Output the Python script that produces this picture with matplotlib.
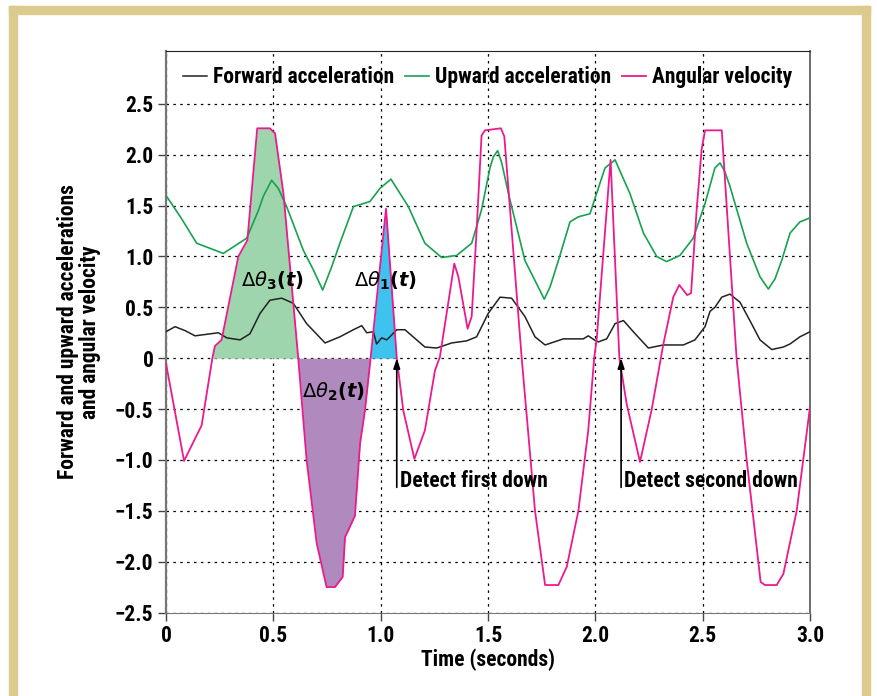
import matplotlib
matplotlib.use("Agg")
import matplotlib.pyplot as plt
import numpy as np
from matplotlib.patches import Rectangle

FAM = ['Roboto Condensed', 'DejaVu Sans']
plt.rcParams['font.family'] = FAM
plt.rcParams['mathtext.fontset'] = 'dejavusans'

# ---------------- data ----------------
t_fwd = [0.0, 0.042, 0.09, 0.135, 0.244, 0.283, 0.345, 0.391, 0.438, 0.484, 0.539, 0.593,
         0.655, 0.741, 0.81, 0.873, 0.912, 0.935, 0.966, 0.981, 1.005, 1.028, 1.043, 1.075,
         1.113, 1.206, 1.261, 1.331, 1.40, 1.447, 1.501, 1.556, 1.61, 1.672, 1.719, 1.766,
         1.851, 1.944, 1.967, 1.995, 2.014, 2.053, 2.092, 2.131, 2.177, 2.247, 2.317, 2.41,
         2.464, 2.511, 2.534, 2.557, 2.589, 2.627, 2.674, 2.72, 2.767, 2.822, 2.876, 2.907,
         2.953, 3.0]
forward_acc = [0.26, 0.31, 0.27, 0.22, 0.25, 0.20, 0.18, 0.24, 0.44, 0.57, 0.59, 0.54,
               0.34, 0.15, 0.21, 0.28, 0.32, 0.25, 0.26, 0.14, 0.20, 0.18, 0.21, 0.28,
               0.28, 0.11, 0.10, 0.15, 0.17, 0.21, 0.44, 0.60, 0.59, 0.41, 0.21, 0.13,
               0.19, 0.19, 0.22, 0.18, 0.16, 0.19, 0.34, 0.37, 0.26, 0.10, 0.13, 0.13,
               0.18, 0.31, 0.46, 0.50, 0.60, 0.63, 0.55, 0.37, 0.18, 0.085, 0.11, 0.14,
               0.21, 0.26]

t_up = [0.0, 0.07, 0.143, 0.267, 0.376, 0.43, 0.453, 0.492, 0.523, 0.562, 0.64, 0.686, 0.73,
        0.772, 0.81, 0.873, 0.95, 0.997, 1.048, 1.129, 1.206, 1.284, 1.354, 1.424, 1.47,
        1.509, 1.525, 1.545, 1.564, 1.595, 1.672, 1.734, 1.762, 1.789, 1.828, 1.882, 1.921,
        1.975, 2.006, 2.045, 2.092, 2.123, 2.161, 2.224, 2.286, 2.332, 2.394, 2.456, 2.511,
        2.557, 2.581, 2.604, 2.627, 2.705, 2.767, 2.806, 2.837, 2.868, 2.907, 2.953, 3.0]
upward_acc = [1.60, 1.38, 1.13, 1.03, 1.18, 1.45, 1.59, 1.75, 1.67, 1.49, 1.06, 0.87, 0.67,
              0.90, 1.13, 1.49, 1.54, 1.67, 1.76, 1.49, 1.13, 0.99, 1.01, 1.13, 1.46,
              1.87, 1.98, 2.04, 1.92, 1.62, 0.96, 0.70, 0.58, 0.70, 0.96, 1.34, 1.39,
              1.42, 1.62, 1.87, 1.95, 1.80, 1.62, 1.23, 1.0, 0.95, 1.01, 1.18, 1.52,
              1.87, 1.92, 1.83, 1.69, 1.13, 0.80, 0.68, 0.78, 0.96, 1.23, 1.34, 1.38]

t_ang = [0.0, 0.084, 0.166, 0.216, 0.228, 0.259, 0.337, 0.379, 0.425, 0.484, 0.508, 0.547,
         0.616, 0.655, 0.702, 0.748, 0.787, 0.823, 0.834, 0.88, 0.904, 0.927, 0.953, 1.025,
         1.075, 1.105, 1.157, 1.206, 1.253, 1.276, 1.343, 1.362, 1.405, 1.424, 1.447, 1.47,
         1.486, 1.56, 1.576, 1.657, 1.719, 1.766, 1.828, 1.867, 1.921, 1.967, 1.995, 2.006,
         2.071, 2.112, 2.146, 2.208, 2.262, 2.317, 2.363, 2.391, 2.428, 2.446, 2.472, 2.495,
         2.511, 2.589, 2.658, 2.705, 2.77, 2.79, 2.845, 2.876, 2.938, 3.0]
angular_vel = [-0.05, -1.01, -0.66, 0.0, 0.12, 0.18, 1.0, 1.16, 2.26, 2.26, 2.21, 1.62,
               0.0, -1.0, -1.82, -2.25, -2.25, -2.15, -1.76, -1.55, -0.84, -0.51, 0.0, 1.47,
               0.0, -0.51, -0.99, -0.71, -0.12, 0.013, 0.93, 0.80, 0.29, 0.41, 1.26, 2.19,
               2.24, 2.26, 2.18, 0.0, -1.5, -2.23, -2.23, -2.05, -1.5, -0.71, 0.01, 0.18,
               1.95, 0.0, -0.45, -1.02, -0.51, 0.14, 0.6, 0.72, 0.62, 0.64, 1.46, 2.05,
               2.24, 2.24, 0.0, -1.0, -2.2, -2.23, -2.23, -2.12, -1.5, -0.48]

series_labels = ['Forward acceleration', 'Upward acceleration', 'Angular velocity']
area_labels = [r'$\Delta\theta_{\mathbf{3}}\mathbf{(}\mathbfit{t}\mathbf{)}$',
               r'$\Delta\theta_{\mathbf{2}}\mathbf{(}\mathbfit{t}\mathbf{)}$',
               r'$\Delta\theta_{\mathbf{1}}\mathbf{(}\mathbfit{t}\mathbf{)}$']
area_spans = [(0.216, 0.616), (0.616, 0.953), (0.953, 1.075)]
detect_times = [1.075, 2.12]
detect_labels = ['Detect first down', 'Detect second down']
x_ticks = [0, 0.5, 1.0, 1.5, 2.0, 2.5, 3.0]
x_ticklabels = ['0', '0.5', '1.0', '1.5', '2.0', '2.5', '3.0']
y_ticks = [-2.5, -2.0, -1.5, -1.0, -0.5, 0, 0.5, 1.0, 1.5, 2.0, 2.5]
y_ticklabels = ['\u22122.5', '\u22122.0', '\u22121.5', '\u22121.0', '\u22120.5', '0',
                '0.5', '1.0', '1.5', '2.0', '2.5']

# ---------------- figure ----------------
W, H = 877, 696
FS = 15.5
fig = plt.figure(figsize=(W / 100, H / 100), dpi=100)
tan = '#dccb8d'
for (x0, y0, w, h) in [(9, 6, 8, 690), (9, 6, 861, 8), (862, 6, 8, 690)]:
    fig.patches.append(Rectangle((x0 / W, 1 - (y0 + h) / H), w / W, h / H,
                                 transform=fig.transFigure, color=tan, zorder=0))

ax = fig.add_axes([166 / W, 1 - 612.5 / H, (810 - 166) / W, (612.5 - 51) / H])
ax.set_xlim(0, 3.0)
ax.set_ylim(-2.5, 3.02)

ta = np.array(t_ang)
va = np.array(angular_vel)
fill_cols = ['#9fd5ad', '#b08abf', '#3ec3ef']
for (a, b), c in zip(area_spans, fill_cols):
    m = (ta >= a - 1e-9) & (ta <= b + 1e-9)
    ax.fill_between(ta[m], 0, va[m], color=c, lw=0, zorder=1)

ax.plot(t_fwd, forward_acc, color='#222222', lw=1.1, zorder=3, label=series_labels[0])
ax.plot(t_up, upward_acc, color='#17a24f', lw=1.2, zorder=3, label=series_labels[1])
ax.plot(t_ang, angular_vel, color='#ec1a8c', lw=1.3, zorder=4, label=series_labels[2])

ax.grid(True, color='black', linestyle=(0, (2, 3.5)), lw=0.9, zorder=0)
ax.set_axisbelow(True)
ax.set_xticks(x_ticks)
ax.set_xticklabels(x_ticklabels)
ax.set_yticks(y_ticks)
ax.set_yticklabels(y_ticklabels)
ax.tick_params(direction='out', length=6, width=1, color='#444444', labelsize=FS, pad=3)
for lab in ax.get_xticklabels() + ax.get_yticklabels():
    lab.set_fontweight('bold')
ax.spines['left'].set_color('#777777')
ax.spines['left'].set_linewidth(1.6)
ax.spines['bottom'].set_color('#777777')
ax.spines['top'].set_color('#222222')
ax.spines['right'].set_color('#555555')
ax.spines['right'].set_linewidth(1.2)

ax.set_xlabel('Time (seconds)', fontsize=FS, fontweight='bold', labelpad=1)
ax.set_ylabel('Forward and upward accelerations\nand angular velocity', fontsize=FS,
              fontweight='bold', labelpad=10, linespacing=1.0)

leg = ax.legend(loc='upper center', bbox_to_anchor=(0.5, 1.0), ncol=3, frameon=False,
                handlelength=1.1, handletextpad=0.3, columnspacing=0.5,
                prop={'weight': 'bold', 'size': FS, 'family': FAM}, borderaxespad=0.3)

label_pos = [(0.495, 0.76), (0.78, -0.33), (1.02, 0.76)]
for (x, y), s in zip(label_pos, area_labels):
    ax.text(x, y, s, fontsize=14, ha='center', va='center', zorder=5)

for tx, s in zip(detect_times, detect_labels):
    ax.annotate('', xy=(tx, 0.0), xytext=(tx, -1.27),
                arrowprops=dict(arrowstyle='-|>,head_length=0.6,head_width=0.2',
                                color='black', lw=1.2, shrinkA=0, shrinkB=0), zorder=6)
    ax.text(tx + 0.015, -1.21, s, fontsize=FS, fontweight='bold', ha='left',
            va='center', zorder=6)

fig.savefig('out.png', dpi=100)
